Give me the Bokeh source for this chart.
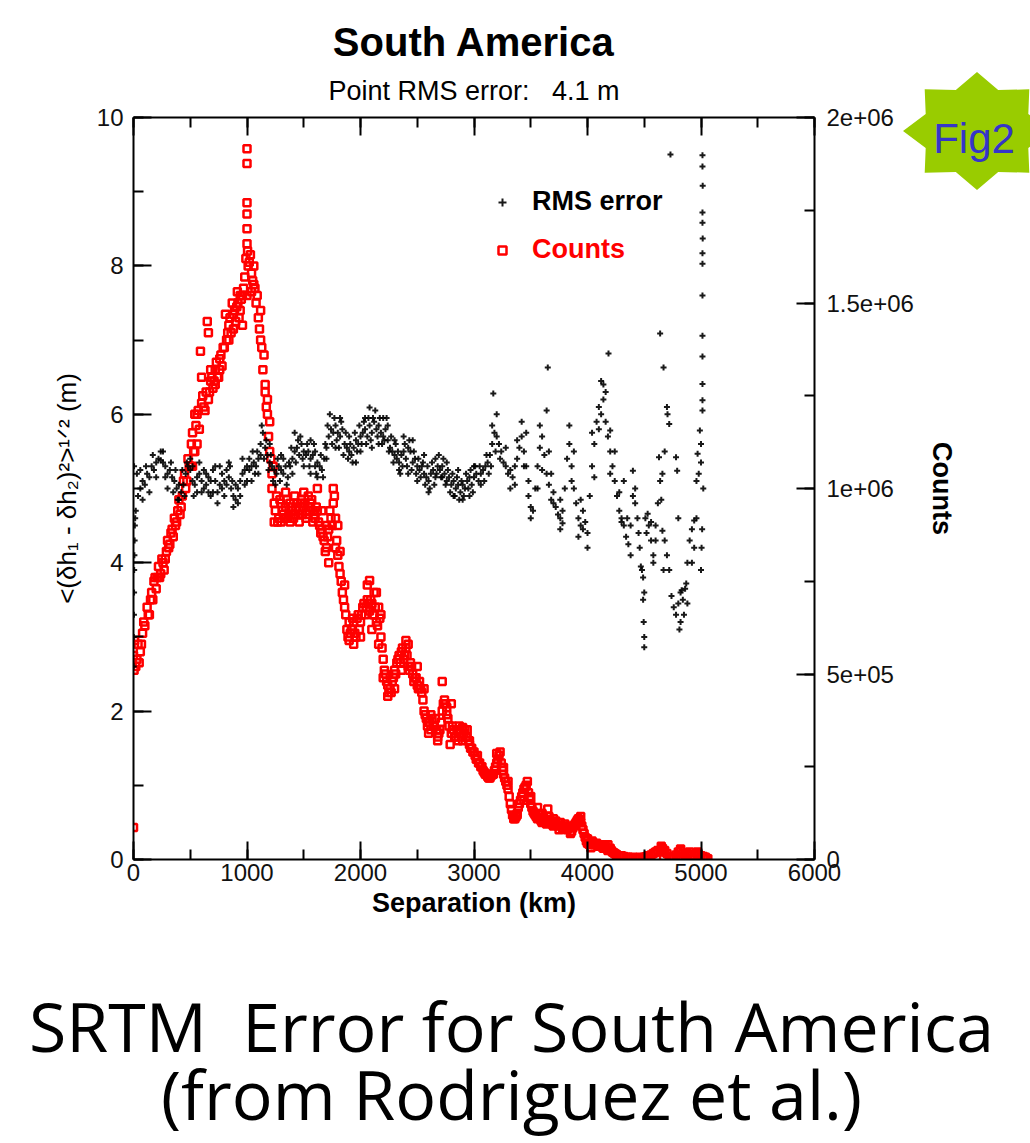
import numpy as np
from bokeh.plotting import figure
from bokeh.layouts import row, column
from bokeh.models import (Range1d, LinearAxis, SingleIntervalTicker, CustomJSTickFormatter,
                          Title, Legend, LegendItem, Div)
from bokeh.core.properties import value
from bokeh.embed import file_html
from bokeh.resources import INLINE

# ---------------- data ----------------
rms_start_km = 20
rms_step_km = 20
rms_main = [
    4.7, 4.9, 5.0, 5.1, 5.05, 5.2, 5.15, 5.3, 5.25, 5.35,
    5.4, 5.38, 5.35, 5.3, 5.2, 5.25, 5.15, 5.1, 5.0, 5.05,
    4.95, 5.05, 5.2, 5.3, 5.25, 5.1, 5.05, 5.15, 5.2, 5.1,
    5.0, 5.05, 4.95, 5.1, 5.25, 5.1, 4.95, 5.05, 5.2, 5.1,
    5.25, 5.15, 5.0, 4.9, 4.85, 5.0, 5.1, 5.2, 5.25, 5.3,
    5.25, 5.3, 5.35, 5.3, 5.4, 5.6, 5.75, 5.55, 5.45, 5.35,
    5.3, 5.25, 5.2, 5.3, 5.25, 5.2, 5.3, 5.15, 5.3, 5.4,
    5.5, 5.55, 5.45, 5.6, 5.5, 5.45, 5.5, 5.4, 5.45, 5.3,
    5.35, 5.3, 5.25, 5.4, 5.55, 5.7, 5.8, 5.75, 5.85, 5.75,
    5.7, 5.8, 5.6, 5.55, 5.5, 5.45, 5.55, 5.65, 5.6, 5.7,
    5.75, 5.8, 5.7, 5.85, 5.75, 5.9, 5.8, 5.85, 5.75, 5.7,
    5.8, 5.65, 5.55, 5.5, 5.45, 5.4, 5.35, 5.45, 5.5, 5.4,
    5.55, 5.5, 5.35, 5.4, 5.3, 5.25, 5.3, 5.2, 5.15, 5.1,
    5.2, 5.25, 5.15, 5.3, 5.25, 5.3, 5.2, 5.1, 5.15, 5.05,
    5.1, 5.0, 5.05, 4.95, 5.05, 5.0, 5.1, 5.15, 5.05, 5.15,
    5.2, 5.1, 5.2, 5.25, 5.3, 5.35, 5.45, 5.6, 5.75, 5.7,
    5.6, 5.5, 5.35, 5.3, 5.2, 5.25, 5.15, 5.3, 5.4, 5.55,
    5.7, 5.5, 5.3, 4.9, 4.75, 4.7, 5.0, 5.3, 5.55, 5.7,
    5.45, 5.2, 5.05, 4.85, 4.95, 4.75, 4.65, 4.6, 4.7, 5.0,
    5.4, 5.6, 5.3, 5.0, 4.8, 4.6, 4.5, 4.7, 4.55, 4.4,
    4.9, 5.3, 5.6, 5.9, 6.1, 6.0, 6.2, 5.9, 5.7, 5.5,
    5.3, 5.1, 4.9, 4.7, 4.6, 4.5, 4.35, 4.25, 4.5, 4.9,
    5.0, 4.6, 4.2, 3.9, 3.6, 4.4, 4.5, 4.3, 4.1, 4.3,
    4.8, 5.1, 5.2, 4.3, 4.1, 3.9, 3.55, 3.4, 3.3, 3.45,
    3.6, 3.5, 3.65, 4.0, 4.3, 4.45, 4.2, 4.6, 5.2, 5.6,
    5.0,
]
rms_extra = [
    (2, 2.6), (3, 3.0), (4, 3.3), (5, 3.6), (6, 3.9), (8, 4.1), (10, 4.3), (12, 4.5),
    (15, 4.6), (5, 5.3), (30, 5.2), (60, 5.25), (80, 4.85), (110, 5.3), (140, 4.95),
    (170, 5.45), (200, 5.15), (240, 5.5), (260, 5.5), (280, 5.15), (300, 5.0), (330, 5.35),
    (350, 4.95), (370, 5.25), (390, 4.85), (400, 4.85), (430, 5.25), (450, 4.9), (470, 5.35),
    (500, 5.4), (520, 5.3), (530, 4.9), (560, 4.95), (580, 5.35), (600, 4.95), (620, 5.25),
    (640, 5.2), (660, 5.15), (680, 4.9), (700, 4.95), (720, 5.3), (740, 4.8), (760, 5.3),
    (780, 5.0), (800, 4.9), (820, 5.05), (840, 5.35), (850, 5.3), (870, 5.1), (880, 4.75),
    (900, 5.05), (920, 4.8), (940, 4.9), (960, 5.4), (980, 5.05), (1000, 5.1), (1020, 5.4),
    (1040, 5.1), (1050, 5.5), (1070, 5.2), (1090, 5.5), (1100, 5.2), (1120, 5.45), (1130, 5.85),
    (1150, 5.4), (1170, 5.65), (1190, 5.25), (1200, 5.6), (1210, 5.45), (1230, 5.1), (1250, 5.05),
    (1270, 5.4), (1290, 5.1), (1300, 5.45), (1320, 5.4), (1350, 5.05), (1370, 5.35), (1390, 5.55),
    (1400, 5.2), (1420, 5.75), (1430, 5.35), (1450, 5.65), (1470, 5.7), (1490, 5.4), (1500, 5.3),
    (1530, 5.6), (1550, 5.3), (1560, 5.65), (1560, 5.2), (1590, 5.6), (1600, 5.5), (1610, 5.2),
    (1620, 5.15), (1650, 5.45), (1670, 5.15), (1690, 5.6), (1700, 5.4), (1710, 5.85), (1730, 6.0),
    (1750, 5.6), (1770, 5.95), (1780, 5.55), (1790, 5.65), (1810, 5.55), (1820, 5.95), (1830, 5.9),
    (1850, 5.45), (1870, 5.75), (1890, 5.4), (1900, 5.7), (1910, 5.6), (1930, 5.35), (1950, 5.75),
    (1960, 5.35), (1970, 5.5), (1990, 5.85), (2000, 5.5), (2010, 5.6), (2030, 5.9), (2040, 5.95),
    (2050, 5.6), (2070, 5.95), (2080, 6.09), (2090, 5.65), (2100, 5.55), (2110, 5.95), (2130, 6.05),
    (2150, 5.7), (2160, 5.6), (2170, 5.95), (2190, 5.6), (2200, 5.95), (2210, 5.65), (2230, 5.95),
    (2240, 5.85), (2250, 5.5), (2270, 5.7), (2290, 5.35), (2300, 5.65), (2310, 5.6), (2330, 5.5),
    (2340, 5.25), (2350, 5.2), (2370, 5.3), (2380, 5.7), (2390, 5.6), (2410, 5.3), (2420, 5.2),
    (2430, 5.65), (2450, 5.25), (2460, 5.65), (2470, 5.5), (2490, 5.2), (2500, 5.1), (2510, 5.4),
    (2530, 5.15), (2550, 5.35), (2560, 5.45), (2570, 5.05), (2590, 5.3), (2600, 4.95), (2610, 5.0),
    (2630, 5.35), (2650, 5.05), (2660, 5.4), (2670, 5.2), (2690, 5.45), (2710, 5.15), (2720, 5.15),
    (2730, 5.4), (2750, 5.05), (2760, 5.35), (2770, 5.25), (2790, 4.95), (2810, 5.2), (2820, 4.9),
    (2830, 4.9), (2850, 5.15), (2860, 5.25), (2870, 4.85), (2890, 5.1), (2900, 4.85), (2910, 4.9),
    (2930, 5.2), (2950, 5.0), (2960, 4.9), (2970, 5.25), (2990, 4.95), (3000, 5.3), (3010, 5.3),
    (3050, 5.3), (3060, 5.05), (3090, 5.1), (3110, 5.45), (3130, 5.2), (3150, 5.3), (3160, 5.85),
    (3170, 6.28), (3190, 5.5), (3200, 6.0), (3230, 5.4), (3280, 5.55), (3320, 5.0), (3360, 5.05),
    (3380, 5.65), (3420, 5.9), (3440, 5.3), (3460, 5.75), (3480, 5.1), (3500, 4.6), (3560, 5.0),
    (3580, 5.85), (3600, 5.25), (3640, 6.05), (3650, 6.63), (3660, 5.5), (3680, 5.2),
    (3700, 4.8), (3760, 4.85), (3760, 4.45), (3780, 4.53), (3840, 5.85), (3860, 5.1),
    (3880, 5.5), (3920, 4.35), (3940, 4.85), (3960, 4.45), (4000, 4.2), (4040, 5.75),
    (4060, 5.15), (4100, 5.8), (4120, 6.45), (4140, 6.4), (4160, 6.3), (4185, 6.82),
    (4200, 5.78), (4200, 5.2), (4240, 5.5), (4280, 4.95), (4300, 4.55), (4320, 5.1),
    (4350, 4.6), (4380, 4.1), (4400, 5.24), (4420, 4.8), (4450, 4.4), (4470, 3.95),
    (4490, 3.8), (4490, 3.5), (4495, 3.2), (4500, 3.0), (4500, 2.86), (4510, 4.6),
    (4530, 4.66), (4560, 4.55), (4580, 4.0), (4600, 4.5), (4630, 5.42), (4640, 7.09),
    (4650, 4.85), (4660, 4.43), (4670, 3.9), (4670, 6.63), (4680, 5.5), (4700, 6.1),
    (4705, 6.0), (4720, 5.87), (4731, 9.5), (4780, 5.42), (4790, 5.24), (4800, 4.6),
    (4810, 3.1), (4820, 3.2), (4830, 3.63), (4850, 3.3), (4870, 3.72), (4880, 3.45),
    (4920, 4.0), (4940, 4.57), (4960, 5.1), (4970, 5.47), (4990, 5.78), (5000, 5.35),
    (5013, 9.49), (5013, 9.34), (5015, 9.08), (5013, 8.72), (5013, 8.58), (5015, 8.37),
    (5013, 8.17), (5013, 8.03), (5013, 7.6), (5013, 7.06), (5013, 6.78), (5013, 6.41),
    (5013, 6.19), (5013, 6.05), (5010, 4.45), (5005, 4.2), (5000, 3.9),
]

counts_start_km = 0
counts_step_km = 20
counts_main_e5 = [
    5.5, 5.2, 5.8, 5.6, 6.1, 6.3, 6.8, 6.6, 7.2, 7.5,
    7.3, 7.9, 7.7, 8.0, 8.1, 8.6, 8.5, 8.9, 9.2, 9.1,
    9.7, 9.5, 10.2, 10.0, 10.8, 10.6, 11.5, 11.0, 12.0, 11.6,
    12.3, 12.2, 12.6, 12.4, 12.9, 12.7, 13.2, 13.0, 13.5, 13.3,
    13.8, 14.0, 14.4, 14.2, 14.7, 14.5, 15.0, 14.8, 15.2, 15.7,
    16.6, 16.1, 15.8, 15.5, 15.0, 14.6, 14.0, 13.2, 12.6, 12.0,
    11.0, 10.4, 9.6, 9.8, 9.2, 9.6, 9.3, 9.5, 9.2, 9.6,
    9.4, 9.3, 9.6, 9.4, 9.7, 9.5, 9.2, 9.5, 9.6, 9.4,
    9.2, 9.4, 9.0, 8.9, 8.6, 8.4, 8.9, 9.2, 9.6, 9.2,
    8.2, 7.7, 7.2, 6.8, 6.2, 5.9, 6.2, 6.4, 6.0, 6.6,
    6.4, 6.8, 6.6, 7.0, 6.7, 6.9, 6.6, 6.4, 6.8, 6.0,
    5.4, 5.0, 4.7, 4.6, 4.8, 5.1, 5.3, 5.5, 5.6, 5.4,
    5.7, 5.2, 5.3, 5.0, 4.9, 4.7, 4.8, 4.5, 4.0, 3.8,
    3.7, 3.9, 3.6, 3.8, 3.3, 3.5, 4.0, 4.3, 4.1, 3.6,
    3.4, 3.5, 3.3, 3.5, 3.4, 3.2, 3.5, 3.3, 3.1, 3.0,
    2.9, 2.7, 2.6, 2.5, 2.4, 2.3, 2.24, 2.2, 2.3, 2.4,
    2.6, 2.8, 2.6, 2.3, 2.1, 1.9, 1.5, 1.2, 1.1, 1.2,
    1.5, 1.7, 1.9, 2.0, 1.8, 1.5, 1.3, 1.2, 1.1, 1.24,
    1.0, 1.1, 0.96, 1.16, 1.0, 0.9, 1.04, 0.9, 1.0, 0.84,
    0.96, 0.8, 0.9, 0.76, 0.9, 1.0, 1.1, 1.0, 0.8, 0.6,
    0.44, 0.4, 0.5, 0.4, 0.44, 0.36, 0.4, 0.3, 0.36, 0.24,
    0.3, 0.2, 0.16, 0.12, 0.1, 0.1, 0.08, 0.06, 0.06, 0.04,
    0.06, 0.04, 0.04, 0.06, 0.04, 0.06, 0.08, 0.1, 0.12, 0.16,
    0.2, 0.24, 0.2, 0.3, 0.24, 0.16, 0.08, 0.04, 0.04, 0.12,
    0.2, 0.24, 0.16, 0.1, 0.16, 0.2, 0.12, 0.1, 0.16, 0.12,
    0.1, 0.08, 0.06, 0.02,
]
counts_extra_e5 = [
    (0, 0.86), (5, 5.1), (10, 5.9), (30, 5.4), (50, 5.3), (70, 5.8), (90, 6.4), (130, 6.6),
    (150, 7.0), (170, 7.0), (190, 7.6), (210, 7.6), (230, 7.6), (250, 8.1), (270, 7.8),
    (290, 8.3), (310, 8.4), (330, 8.8), (350, 8.7), (370, 9.0), (390, 9.4), (410, 9.3),
    (430, 9.8), (450, 10.4), (470, 10.2), (490, 10.6), (510, 11.2), (520, 10.6), (530, 11.0),
    (540, 12.0), (550, 11.7), (560, 11.2), (570, 12.1), (590, 13.7), (600, 13.0), (610, 12.5),
    (630, 12.1), (650, 14.5), (660, 14.2), (670, 12.6), (680, 13.2), (690, 13.0), (710, 12.9),
    (720, 12.8), (730, 13.4), (750, 13.0), (760, 13.2), (770, 13.6), (790, 13.8), (810, 14.7),
    (830, 14.2), (840, 14.0), (850, 14.6), (870, 15.0), (880, 14.3), (890, 14.8), (910, 14.9),
    (915, 15.3), (930, 14.6), (940, 15.2), (950, 15.1), (960, 14.4), (970, 15.4), (990, 16.2),
    (1000, 17.0), (1000, 17.4), (1000, 17.7), (1000, 18.76), (1000, 19.16), (1000, 15.2),
    (1005, 16.4), (1010, 16.0), (1030, 16.3), (1040, 15.3), (1050, 15.6), (1060, 16.0),
    (1070, 15.4), (1090, 15.2), (1110, 14.3), (1120, 14.8), (1130, 13.8), (1150, 13.6),
    (1160, 12.8), (1170, 12.2), (1180, 12.4), (1190, 11.4), (1200, 11.8), (1210, 10.8),
    (1220, 10.0), (1230, 10.6), (1240, 9.1), (1250, 9.4), (1270, 9.1), (1290, 9.7), (1300, 9.1),
    (1310, 9.4), (1330, 9.2), (1340, 9.9), (1350, 9.7), (1370, 9.3), (1380, 9.1), (1390, 9.5),
    (1410, 9.2), (1420, 9.8), (1430, 9.5), (1450, 9.3), (1460, 9.1), (1470, 9.6), (1490, 9.3),
    (1500, 9.9), (1510, 9.6), (1530, 9.3), (1540, 9.8), (1550, 9.4), (1570, 9.7), (1580, 9.1),
    (1590, 9.3), (1610, 9.5), (1620, 10.0), (1630, 9.1), (1650, 8.8), (1660, 9.4), (1670, 8.7),
    (1690, 8.3), (1700, 9.0), (1710, 8.7), (1720, 8.0), (1730, 9.4), (1750, 9.0), (1760, 10.0),
    (1770, 9.8), (1780, 8.4), (1790, 8.6), (1800, 9.0), (1810, 7.9), (1820, 8.3), (1830, 7.5),
    (1850, 7.0), (1860, 7.4), (1870, 6.6), (1890, 6.0), (1900, 6.4), (1910, 6.1), (1930, 6.5),
    (1940, 5.8), (1950, 6.1), (1970, 6.5), (1990, 6.2), (2000, 6.0), (2010, 6.6), (2030, 6.9),
    (2050, 6.8), (2060, 7.4), (2070, 6.9), (2080, 7.52), (2090, 7.0), (2100, 6.2), (2110, 6.6),
    (2120, 7.2), (2130, 6.8), (2140, 7.2), (2150, 6.3), (2160, 5.8), (2170, 6.5), (2180, 6.6),
    (2190, 5.7), (2200, 4.9), (2210, 5.1), (2230, 4.8), (2240, 4.4), (2250, 4.5), (2270, 4.5),
    (2290, 4.9), (2300, 4.6), (2310, 5.0), (2330, 5.4), (2350, 5.3), (2360, 5.1), (2370, 5.7),
    (2390, 5.5), (2400, 5.9), (2410, 5.5), (2420, 5.8), (2430, 5.1), (2450, 5.2), (2470, 4.8),
    (2490, 4.9), (2500, 5.2), (2510, 4.6), (2530, 4.6), (2550, 4.3), (2560, 4.6), (2570, 3.9),
    (2590, 3.6), (2600, 3.4), (2610, 3.7), (2620, 3.5), (2630, 3.8), (2650, 3.6), (2670, 3.5),
    (2680, 3.2), (2690, 3.4), (2710, 3.7), (2720, 4.8), (2730, 4.2), (2750, 4.2), (2760, 3.9),
    (2770, 3.8), (2790, 3.1), (2800, 4.2), (2810, 3.6), (2830, 3.3), (2850, 3.5), (2860, 3.2),
    (2870, 3.6), (2890, 3.3), (2900, 3.56), (2910, 3.4), (2930, 3.3), (2940, 3.5), (2950, 3.2),
    (2960, 3.2), (2970, 3.0), (2990, 2.9), (3010, 2.8), (3030, 2.8), (3050, 2.6), (3070, 2.5),
    (3090, 2.35), (3110, 2.3), (3130, 2.2), (3150, 2.25), (3170, 2.3), (3190, 2.5), (3200, 2.86),
    (3210, 2.7), (3230, 2.9), (3250, 2.4), (3260, 2.48), (3270, 2.2), (3290, 2.0), (3300, 2.1),
    (3310, 1.7), (3330, 1.35), (3350, 1.1), (3370, 1.15), (3380, 1.24), (3390, 1.4), (3410, 1.6),
    (3430, 1.8), (3440, 1.6), (3450, 1.95), (3470, 2.1), (3490, 1.65), (3500, 1.7), (3510, 1.4),
    (3530, 1.25), (3550, 1.15), (3560, 1.4), (3570, 1.2), (3590, 1.05), (3600, 1.24), (3610, 1.05),
    (3630, 1.0), (3650, 1.36), (3670, 1.05), (3690, 0.95), (3700, 1.1), (3710, 1.0), (3730, 0.92),
    (3750, 0.8), (3770, 0.9), (3790, 0.9), (3810, 0.86), (3830, 0.85), (3850, 0.7), (3870, 0.85),
    (3890, 0.95), (3910, 1.05), (3930, 1.05), (3940, 1.16), (3950, 0.9), (3970, 0.7), (3990, 0.5),
    (4000, 0.56), (4010, 0.42), (4030, 0.32), (4050, 0.45), (4070, 0.42), (4090, 0.4), (4110, 0.38),
    (4130, 0.34), (4150, 0.32), (4170, 0.3), (4180, 0.4), (4190, 0.26), (4210, 0.24), (4230, 0.18),
    (4250, 0.14), (4650, 0.36), (4670, 0.06), (4820, 0.28), (4970, 0.2),
]

NBSP = "\u00a0"
title_text = "South America"
subtitle_text = "Point RMS error:" + NBSP + NBSP + NBSP + "4.1 m"
caption_lines = ["SRTM" + NBSP + " Error for South America", "(from Rodriguez et al.)"]
badge_text = "Fig2"

# ---------------- assemble series ----------------
rms_x = [rms_start_km + i * rms_step_km for i in range(len(rms_main))] + [q[0] for q in rms_extra]
rms_y = list(rms_main) + [q[1] for q in rms_extra]
cnt_x = [counts_start_km + i * counts_step_km for i in range(len(counts_main_e5))] + [q[0] for q in counts_extra_e5]
cnt_y = [v * 1e5 for v in counts_main_e5] + [q[1] * 1e5 for q in counts_extra_e5]

# ---------------- page geometry ----------------
PAGE_W, PAGE_H = 1030, 1140
TOP_H = 940
FL, FT, FR, FB = 133, 117, 814, 859
FONT = "Liberation Sans"

# ---------------- main chart ----------------
p = figure(width=PAGE_W, height=TOP_H, x_range=Range1d(0, 6000), y_range=Range1d(0, 10),
           output_backend="svg", toolbar_location=None,
           min_border_left=FL, min_border_top=FT, min_border_right=PAGE_W - FR, min_border_bottom=TOP_H - FB)
p.outline_line_color = None
p.xgrid.visible = False
p.ygrid.visible = False
p.background_fill_color = "white"
p.border_fill_color = "white"
p.extra_y_ranges = {"counts": Range1d(0, 2e6)}

def style_axis(ax, size="24px"):
    ax.axis_line_width = 2
    ax.axis_line_color = "black"
    ax.major_tick_in = 18
    ax.major_tick_out = 0
    ax.minor_tick_in = 10
    ax.minor_tick_out = 0
    ax.major_tick_line_width = 2
    ax.minor_tick_line_width = 2
    ax.major_tick_line_color = "black"
    ax.minor_tick_line_color = "black"
    ax.major_label_text_font = FONT
    ax.major_label_text_font_size = size
    ax.major_label_text_color = "#111111"
    ax.axis_label_text_font = FONT
    ax.axis_label_text_color = "black"

xa = p.xaxis[0]
xa.ticker = SingleIntervalTicker(interval=1000, num_minor_ticks=2)
style_axis(xa)
xa.axis_label = "Separation (km)"
xa.axis_label_text_font_style = "bold"
xa.axis_label_text_font_size = "27px"
xa.major_label_standoff = 4
xa.axis_label_standoff = 4

ya = p.yaxis[0]
ya.ticker = SingleIntervalTicker(interval=2, num_minor_ticks=2)
style_axis(ya)
ya.axis_label = "<(δh₁ - δh₂)²>¹ᐟ² (m)"
ya.axis_label_text_font_style = "normal"
ya.axis_label_text_font_size = "26px"
ya.major_label_standoff = 10
ya.axis_label_standoff = 12

top = LinearAxis(ticker=SingleIntervalTicker(interval=1000, num_minor_ticks=2),
                 formatter=CustomJSTickFormatter(code="return ''"))
style_axis(top)
p.add_layout(top, "above")

ra = LinearAxis(y_range_name="counts", ticker=SingleIntervalTicker(interval=5e5, num_minor_ticks=2),
                formatter=CustomJSTickFormatter(code="""
                    if (tick == 0) return '0';
                    const e = Math.floor(Math.log10(tick) + 1e-9);
                    const m = Math.round(tick / Math.pow(10, e) * 100) / 100;
                    return m + 'e+' + String(e).padStart(2, '0');"""))
style_axis(ra)
ra.axis_label = "Counts"
ra.axis_label_text_font_style = "bold"
ra.axis_label_text_font_size = "27px"
ra.major_label_standoff = 12
ra.axis_label_standoff = 10
p.add_layout(ra, "right")

r_cnt = p.scatter(cnt_x, cnt_y, y_range_name="counts", marker="square", size=7,
                  line_color="#ff0000", line_width=2.5, fill_color=None)
r_rms = p.scatter(rms_x, rms_y, marker="cross", size=6, line_color="#000000",
                  line_width=2, line_alpha=0.9)

leg_common = dict(background_fill_alpha=0, border_line_color=None, label_standoff=20,
                  label_text_font=FONT, label_text_font_style="bold", label_text_font_size="27px",
                  glyph_width=20, glyph_height=20, padding=10)
p.add_layout(Legend(items=[LegendItem(label="RMS error", renderers=[r_rms])], location=(359, 642),
                    label_text_color="black", **leg_common))
p.add_layout(Legend(items=[LegendItem(label="Counts", renderers=[r_cnt])], location=(359, 594),
                    label_text_color="#ff0000", **leg_common))

p.title.text = ""
p.title.visible = False
p.add_layout(Title(text=subtitle_text, align="center", text_font=FONT, text_font_size="27px",
                   text_font_style="normal", text_color="black", standoff=24), "above")
p.add_layout(Title(text=title_text, align="center", text_font=FONT, text_font_size="40px",
                   text_font_style="bold", text_color="black", standoff=-5), "above")

# ---------------- "Fig2" badge (decoration, overlaps the top-right corner) ----------------
BX0, BY0, BW, BH = 903, 66, PAGE_W - 903, 128
ang = np.deg2rad(np.arange(16) * 22.5)
rad = np.where(np.arange(16) % 2 == 0, 1.0, 0.75)
star_cx, star_cy, star_rx, star_ry = 977, 131, 74, 59
pts = " ".join(f"{star_cx + star_rx * r * np.cos(a):.1f},{star_cy + star_ry * r * np.sin(a):.1f}"
               for r, a in zip(rad, ang))
badge_svg = (f'<svg xmlns="http://www.w3.org/2000/svg" width="{BW}" height="{BH}" '
             f'viewBox="{BX0} {BY0} {BW} {BH}" style="display:block">'
             f'<polygon points="{pts}" fill="#99cc00"/>'
             f'<text x="974" y="142" text-anchor="middle" dominant-baseline="middle" '
             f'font-family="Noto Sans" font-size="42" fill="#3535c8">{badge_text}</text></svg>')
badge = Div(text=badge_svg, width=BW, height=BH, margin=(BY0, 0, 0, -BW))

# ---------------- caption strip ----------------
CAP_H = PAGE_H - TOP_H
cap = figure(width=PAGE_W, height=CAP_H, x_range=Range1d(0, PAGE_W), y_range=Range1d(0, CAP_H),
             output_backend="svg", toolbar_location=None, x_axis_type=None, y_axis_type=None,
             min_border_left=0, min_border_right=0, min_border_top=0, min_border_bottom=0)
cap.title.visible = False
cap.outline_line_color = None
cap.xgrid.visible = False
cap.ygrid.visible = False
cap.text(x=[511, 511], y=[CAP_H - (1025 - TOP_H), CAP_H - (1093 - TOP_H)], text=caption_lines,
         text_align="center", text_baseline="middle", text_font=value("Open Sans"),
         text_font_size="68px", text_color="black")

layout = column(row(p, badge), cap)
open("out.html", "w").write(file_html(layout, INLINE))
